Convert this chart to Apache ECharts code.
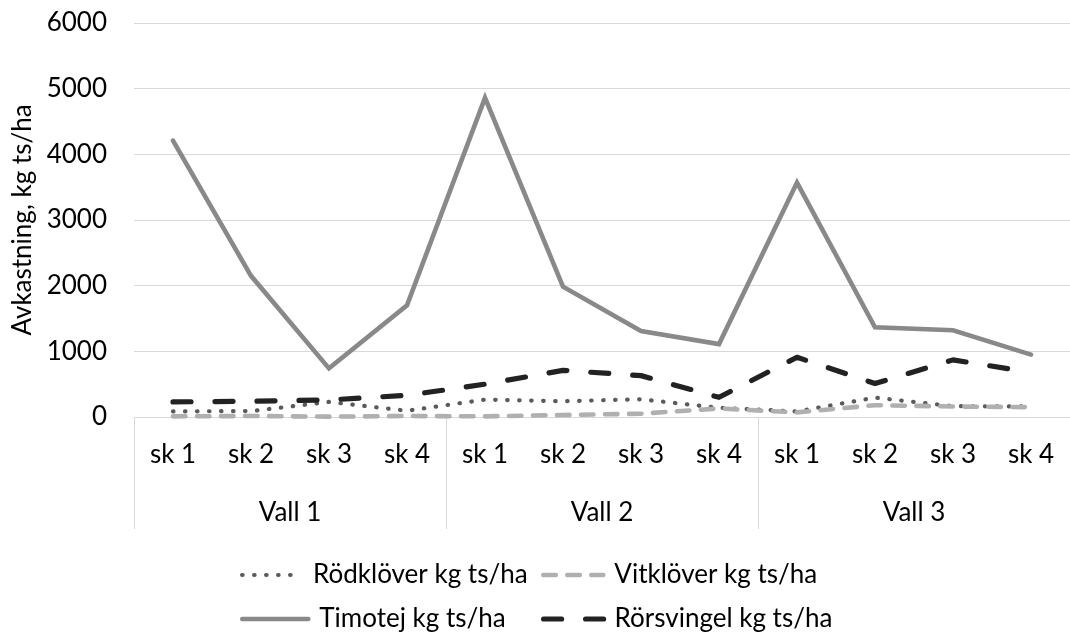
<!DOCTYPE html>
<html>
<head>
<meta charset="utf-8">
<title>Avkastning per skörd</title>
<script src="https://cdn.jsdelivr.net/npm/echarts@6/dist/echarts.min.js"></script>
<style>
  html, body { margin: 0; padding: 0; background: #ffffff; }
  #chart { width: 1070px; height: 637px; }
</style>
</head>
<body>
<div id="chart"></div>
<script>
// Harvest groups (vall) and cuts (skörd) within each group
const groups = ['Vall 1', 'Vall 2', 'Vall 3'];
const cuts = ['sk 1', 'sk 2', 'sk 3', 'sk 4'];

// Yield per cut, kg ts/ha
const rodklover = [85, 90, 230, 95, 265, 240, 270, 140, 85, 295, 165, 160];
const vitklover = [10, 15, 5, 15, 10, 30, 50, 130, 70, 180, 160, 150];
const timotej = [4210, 2150, 740, 1700, 4860, 1985, 1310, 1110, 3570, 1365, 1320, 950];
const rorsvingel = [230, 240, 260, 330, 500, 710, 630, 300, 910, 510, 870, 680];

// y axis ticks
const yMin = 0;
const yMax = 6000;
const yStep = 1000;

const FONT = 'Lato';
const FS = 26;
const categories = [];
groups.forEach(() => cuts.forEach(c => categories.push(c)));

const chart = echarts.init(document.getElementById('chart'), null, { renderer: 'canvas' });

const names = ['Rödklöver kg ts/ha', 'Vitklöver kg ts/ha', 'Timotej kg ts/ha', 'Rörsvingel kg ts/ha'];
const styles = [
  { color: '#5a5a5a', width: 4.2, type: [0.5, 11.5] },
  { color: '#b0b0b0', width: 4.6, type: [12.5, 11.5] },
  { color: '#898989', width: 4.6, type: 'solid' },
  { color: '#222222', width: 5.2, type: [18, 24] }
];

// One legend block per entry so the two columns line up
function legendAt(i, left, top, width) {
  return {
    data: [names[i]],
    left: left,
    top: top,
    orient: 'horizontal',
    itemWidth: width,
    itemHeight: 14,
    padding: 0,
    selectedMode: false,
    itemStyle: { opacity: 0, borderWidth: 0 },
    lineStyle: { color: styles[i].color, width: styles[i].width, type: styles[i].type, cap: 'round' },
    textStyle: { fontFamily: FONT, fontSize: FS, color: '#000', padding: [0, 0, 0, 6] }
  };
}

function lineSeries(i, data) {
  const s = styles[i];
  return {
    name: names[i], type: 'line', data: data, symbol: 'none', z: 2 + i,
    lineStyle: { color: s.color, width: s.width, type: s.type, cap: 'round', join: i === 2 ? 'miter' : 'round' },
    itemStyle: { color: s.color }
  };
}

chart.setOption({
  animation: false,
  backgroundColor: '#ffffff',
  grid: { left: 134, right: -9, top: 23, bottom: 220, containLabel: false },
  legend: [
    legendAt(0, 240, 562, 60),
    legendAt(1, 541, 562, 60),
    legendAt(2, 240, 606, 66),
    legendAt(3, 541, 606, 60)
  ],
  xAxis: [
    {
      type: 'category',
      data: categories,
      boundaryGap: true,
      axisLine: { show: true, lineStyle: { color: '#d9d9d9', width: 1 } },
      axisTick: { show: false },
      axisLabel: { interval: 0, margin: 25, fontFamily: FONT, fontSize: FS, color: '#000' },
      splitLine: { show: false }
    },
    {
      type: 'category',
      data: groups,
      position: 'bottom',
      boundaryGap: true,
      axisLine: { show: false },
      axisTick: { show: true, interval: 0, length: 112, lineStyle: { color: '#d9d9d9', width: 1 } },
      axisLabel: { interval: 0, margin: 83, fontFamily: FONT, fontSize: FS, color: '#000' },
      splitLine: { show: false }
    }
  ],
  yAxis: {
    type: 'value',
    min: yMin,
    max: yMax,
    interval: yStep,
    name: 'Avkastning, kg ts/ha',
    nameLocation: 'middle',
    nameRotate: 90,
    nameGap: 94,
    nameTextStyle: { fontFamily: FONT, fontSize: FS, color: '#000' },
    axisLine: { show: false },
    axisTick: { show: false },
    axisLabel: { margin: 27, fontFamily: FONT, fontSize: FS, color: '#000', formatter: v => String(v) },
    splitLine: { show: true, lineStyle: { color: '#d9d9d9', width: 1 } }
  },
  series: [
    lineSeries(0, rodklover),
    lineSeries(1, vitklover),
    lineSeries(2, timotej),
    lineSeries(3, rorsvingel)
  ]
});
</script>
</body>
</html>
